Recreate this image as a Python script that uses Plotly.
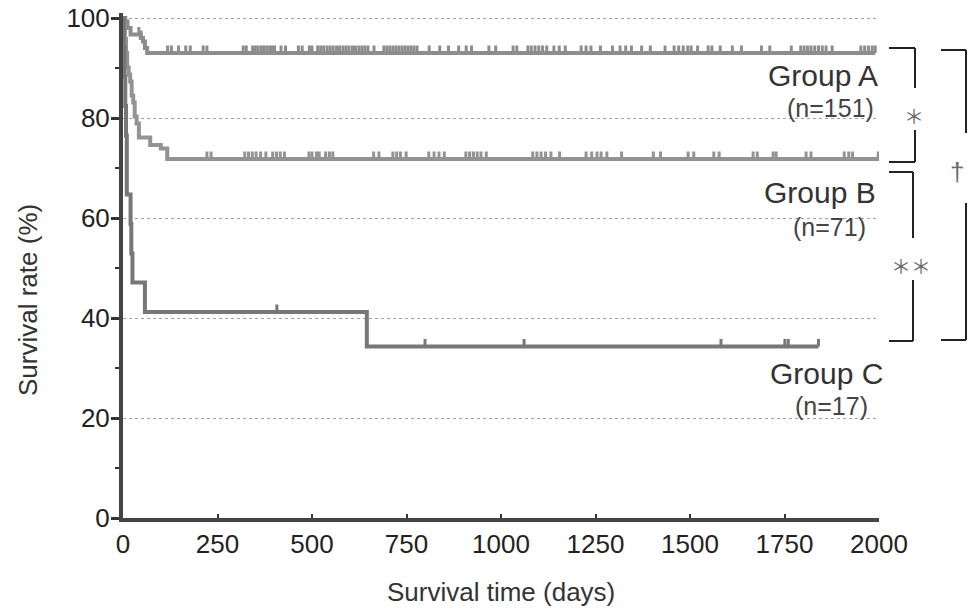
import plotly.graph_objects as go

# ---- data ----
A_times = [0, 6, 12, 20, 47, 53, 58, 64]
A_surv = [100, 99.3, 98.0, 96.7, 96.0, 95.3, 94.0, 93.0]
A_end = 1990
A_cens = [42, 48, 118, 128, 147, 166, 178, 212, 222, 318, 326, 343, 350, 357, 365, 372, 380,
          388, 395, 401, 418, 430, 464, 474, 493, 500, 515, 523, 531, 540, 548, 556, 565, 573,
          582, 590, 598, 607, 615, 624, 632, 640, 648, 664, 690, 698, 706, 714, 722, 730, 738,
          746, 754, 762, 770, 778, 810, 838, 861, 888, 908, 922, 968, 986, 1032, 1042, 1071,
          1080, 1090, 1100, 1110, 1121, 1140, 1154, 1170, 1212, 1225, 1238, 1263, 1295, 1315,
          1330, 1345, 1372, 1395, 1434, 1458, 1470, 1482, 1494, 1503, 1520, 1548, 1558, 1580,
          1612, 1636, 1689, 1711, 1768, 1793, 1802, 1811, 1820, 1830, 1840, 1850, 1860, 1876,
          1952, 1962, 1972, 1982, 1990]

B_times = [0, 2, 5, 8, 11, 15, 19, 23, 27, 31, 36, 42, 72, 100, 117]
B_surv = [100, 97.2, 95.8, 93.0, 90.1, 88.7, 87.3, 84.5, 83.1, 80.3, 78.9, 76.1, 74.6, 73.9, 71.8]
B_end = 2000
B_cens = [222, 233, 322, 332, 342, 352, 364, 378, 396, 406, 416, 427, 492, 500, 512, 519, 536,
          546, 555, 663, 677, 714, 724, 734, 749, 809, 823, 836, 850, 907, 917, 927, 937, 947,
          961, 1084, 1095, 1106, 1118, 1132, 1155, 1225, 1240, 1254, 1265, 1280, 1319, 1403,
          1422, 1495, 1510, 1563, 1577, 1667, 1678, 1720, 1728, 1807, 1820, 1908, 1920, 1930, 1998]

C_times = [0, 2, 4, 6, 8, 10, 20, 22, 25, 58, 645]
C_surv = [100, 94.1, 88.2, 82.4, 76.5, 64.7, 58.8, 52.9, 47.1, 41.2, 34.3]
C_end = 1840
C_cens = [407, 799, 1061, 1582, 1751, 1760, 1840]

x_ticks = [0, 250, 500, 750, 1000, 1250, 1500, 1750, 2000]
y_ticks = [0, 20, 40, 60, 80, 100]
y_minor = [10, 30, 50, 70, 90]

groups = [
    ("Group A", "(n=151)", A_times, A_surv, A_end, A_cens, "#8d8d8d"),
    ("Group B", "(n=71)", B_times, B_surv, B_end, B_cens, "#939393"),
    ("Group C", "(n=17)", C_times, C_surv, C_end, C_cens, "#777777"),
]

TICK_H = 1.5  # censor tick height (data units)


def level_at(times, surv, t):
    val = surv[0]
    for tt, s in zip(times, surv):
        if tt <= t:
            val = s
    return val


fig = go.Figure()
for name, nlab, times, surv, end, cens, col in groups:
    xs = list(times) + [end]
    ys = list(surv) + [surv[-1]]
    fig.add_trace(go.Scatter(x=xs, y=ys, mode="lines", line=dict(color=col, width=4, shape="hv"),
                             showlegend=False, hoverinfo="skip", cliponaxis=False))
    cx, cy = [], []
    for t in cens:
        s = level_at(times, surv, t)
        cx += [t, t, None]
        cy += [s, s + TICK_H, None]
    fig.add_trace(go.Scatter(x=cx, y=cy, mode="lines", line=dict(color=col, width=3),
                             showlegend=False, hoverinfo="skip", cliponaxis=False))

FONT = "Liberation Sans, Arial, sans-serif"

# plot-area geometry in pixels (for paper conversions of the brackets)
L, R, T, B = 123, 90, 13, 93
W, H = 969, 611
PW, PH = W - L - R, H - T - B


def pxx(p):
    return (p - L) / PW


def pxy(p):
    return (H - B - p) / PH


shapes = []
def bracket(x_in, x_out, y_top, y_bot, gap=None):
    segs = [((x_in, y_top), (x_out, y_top)), ((x_in, y_bot), (x_out, y_bot))]
    if gap:
        segs += [((x_out, y_top), (x_out, gap[0])), ((x_out, gap[1]), (x_out, y_bot))]
    else:
        segs += [((x_out, y_top), (x_out, y_bot))]
    for (a, b), (c, d) in segs:
        shapes.append(dict(type="line", xref="paper", yref="paper",
                           x0=pxx(a), y0=pxy(b), x1=pxx(c), y1=pxy(d),
                           line=dict(color="#222222", width=2)))

bracket(889, 915, 48, 162, gap=(88, 130))
bracket(889, 913, 172, 341, gap=(238, 280))
bracket(941, 966, 50, 340, gap=(133, 203))

annotations = []
label_pos = {
    "Group A": (880, 75, 876, 108),
    "Group B": (878, 192, 868, 227),
    "Group C": (885, 373, 870, 406),
}
for name, nlab, *_ in groups:
    gx, gy, nx, ny = label_pos[name]
    annotations.append(dict(text=name, xref="paper", yref="paper", x=pxx(gx), y=pxy(gy),
                            xanchor="right", yanchor="middle", showarrow=False,
                            font=dict(family=FONT, size=30, color="#333333")))
    annotations.append(dict(text=nlab, xref="paper", yref="paper", x=pxx(nx), y=pxy(ny),
                            xanchor="right", yanchor="middle", showarrow=False,
                            font=dict(family=FONT, size=25, color="#444444")))

for txt, x, y, sz, fam in [("＊", 914, 116, 20, "Noto Sans CJK JP, DejaVu Sans"),
                           ("＊＊", 911, 265, 20, "Noto Sans CJK JP, DejaVu Sans"),
                           ("†", 957, 172, 26, FONT)]:
    annotations.append(dict(text=txt, xref="paper", yref="paper", x=pxx(x), y=pxy(y),
                            xanchor="center", yanchor="middle", showarrow=False,
                            font=dict(family=fam, size=sz, color="#6a6a6a")))

# axis titles
annotations.append(dict(text="Survival time (days)", xref="paper", yref="paper",
                        x=pxx(501), y=pxy(592), xanchor="center", yanchor="middle",
                        showarrow=False, font=dict(family=FONT, size=26, color="#333333")))
annotations.append(dict(text="Survival rate (%)", xref="paper", yref="paper",
                        x=pxx(28), y=pxy(300), xanchor="center", yanchor="middle", textangle=-90,
                        showarrow=False, font=dict(family=FONT, size=26, color="#333333")))

fig.update_layout(
    width=W, height=H,
    margin=dict(l=L, r=R, t=T, b=B, pad=0, autoexpand=False),
    plot_bgcolor="white", paper_bgcolor="white",
    font=dict(family=FONT, size=26, color="#222222"),
    shapes=shapes, annotations=annotations,
    xaxis=dict(range=[0, 2000], tickvals=x_ticks, ticktext=[str(v) for v in x_ticks],
               ticks="inside", ticklen=4, tickwidth=2, tickcolor="#333333",
               showline=True, linewidth=4, linecolor="#444444",
               showgrid=False, zeroline=False, automargin=False,
               tickfont=dict(size=26, color="#222222")),
    yaxis=dict(range=[0, 101], tickvals=y_ticks, ticktext=[str(v) for v in y_ticks],
               ticks="outside", ticklen=8, tickwidth=3, tickcolor="#333333",
               showline=True, linewidth=4, linecolor="#444444",
               showgrid=True, gridcolor="#a0a0a0", gridwidth=1, griddash="dot",
               zeroline=False, automargin=False, ticklabelstandoff=-4,
               minor=dict(tickvals=y_minor, ticks="outside", ticklen=4, tickwidth=2,
                          tickcolor="#333333", showgrid=False),
               tickfont=dict(size=26, color="#222222")),
)

fig.write_html("out.html", config={"displayModeBar": False},
               post_script="document.body.style.margin='0';document.body.style.padding='0';")
